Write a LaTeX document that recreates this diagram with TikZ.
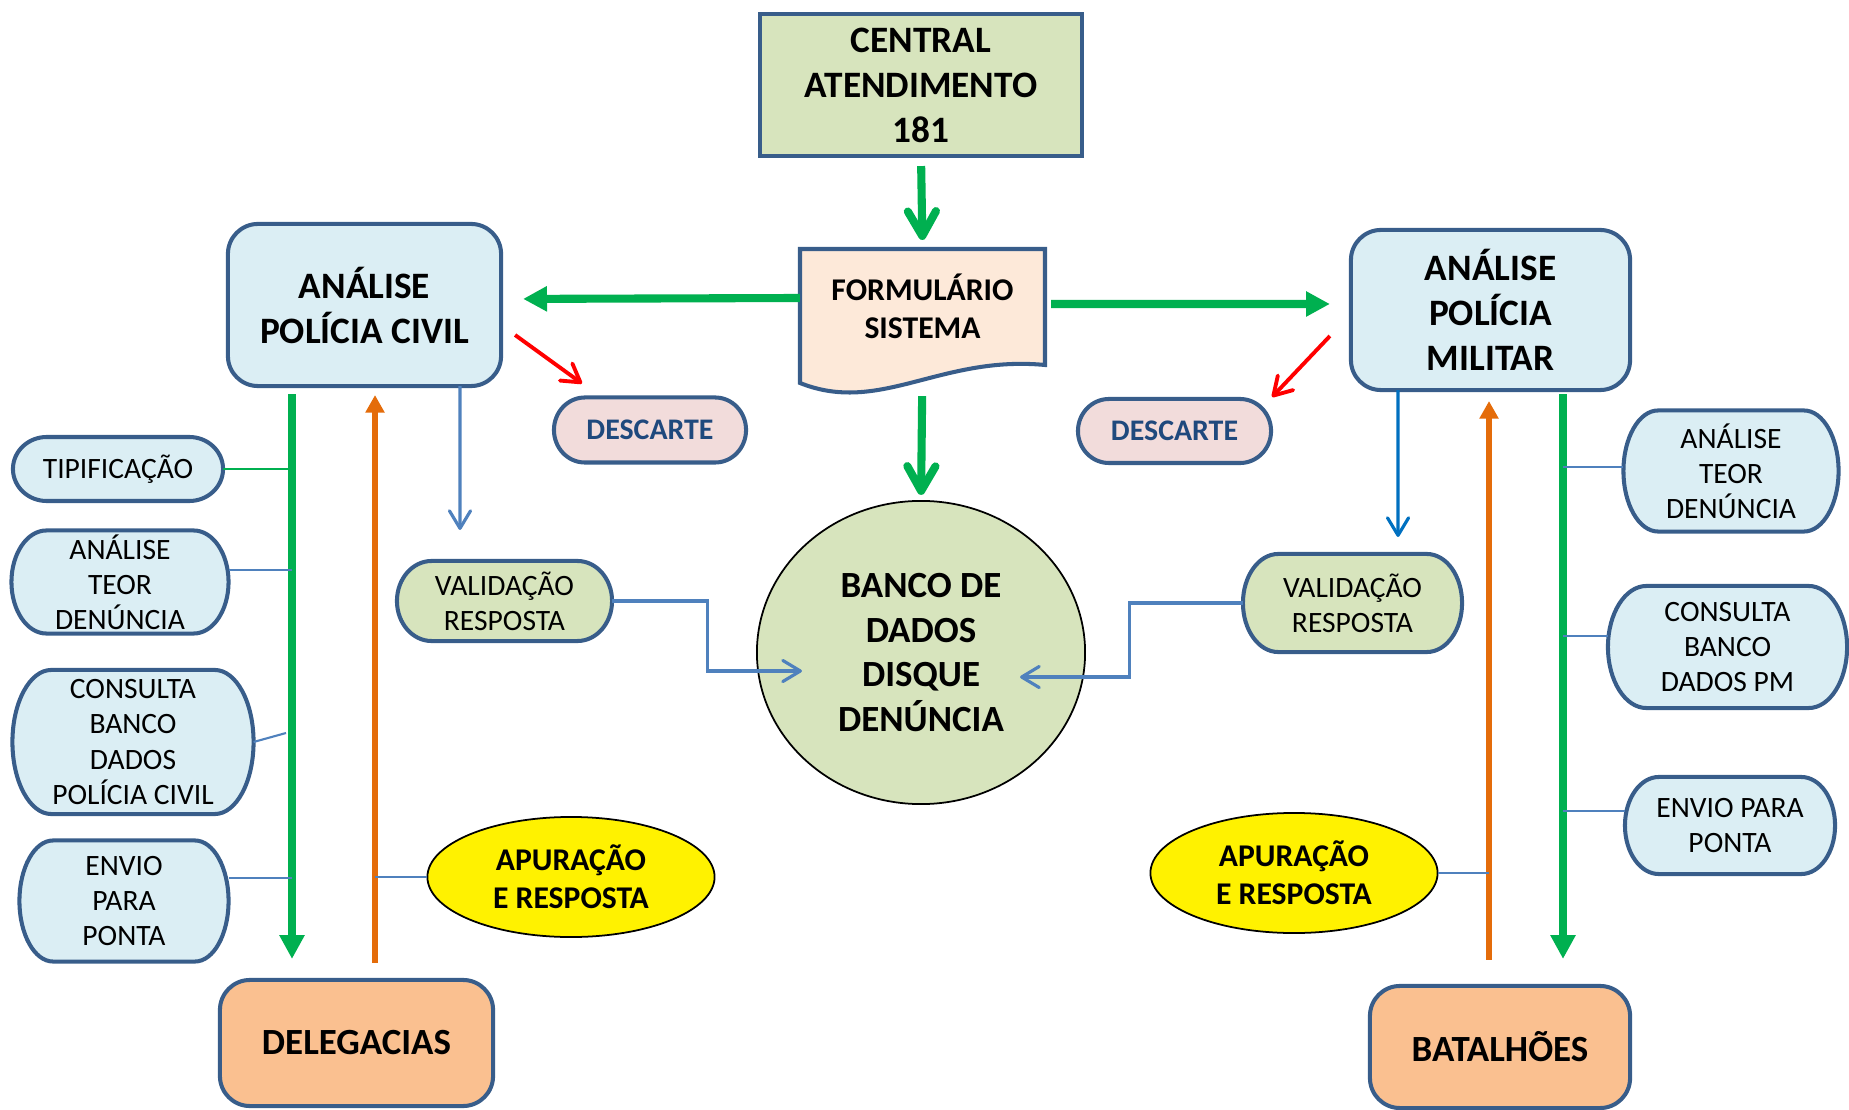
\documentclass[tikz,border=0pt]{standalone}
\usepackage{fontspec}
\setmainfont{Carlito}
\usepackage{tikz}
\usetikzlibrary{backgrounds,calc,positioning,shapes.geometric,arrows.meta}

\definecolor{boxline}{HTML}{385D8A}
\definecolor{paleblue}{HTML}{DBEEF4}
\definecolor{palegreen}{HTML}{D7E4BD}
\definecolor{palepeach}{HTML}{FDE9D9}
\definecolor{palepink}{HTML}{F2DCDB}
\definecolor{darkblue}{HTML}{1F497D}
\definecolor{apricot}{HTML}{FAC090}
\definecolor{flowgreen}{HTML}{00B050}
\definecolor{flowred}{HTML}{FF0000}
\definecolor{floworange}{HTML}{E46C0A}
\definecolor{linkblue}{HTML}{4F81BD}
\definecolor{brightblue}{HTML}{0070C0}

\begin{document}
\begin{tikzpicture}[
        x=0.01cm, y=-0.01cm,
        every node/.style={align=center, inner sep=0, outer sep=0},
        headtext/.style={font=\fontsize{10.6}{12.8}\selectfont\bfseries},
        midtext/.style={font=\fontsize{9}{10.8}\selectfont\bfseries},
        smalltext/.style={font=\fontsize{8.4}{10}\selectfont},
        central/.style={headtext, draw=boxline, line width=1.15pt, fill=palegreen, minimum width=3.21cm, minimum height=1.42cm},
        panel/.style={headtext, draw=boxline, line width=1.15pt, fill=paleblue, rounded corners=0.3cm},
        unit/.style={font=\fontsize{10.5}{12.6}\selectfont\bfseries, draw=boxline, line width=1.15pt, fill=apricot, rounded corners=0.3cm},
        discard/.style={font=\fontsize{8.5}{10}\selectfont\bfseries, text=darkblue},
        bank/.style={ellipse, draw=black, line width=0.5pt, fill=palegreen, minimum width=3.28cm, minimum height=3.03cm, font=\fontsize{10.5}{12.7}\selectfont\bfseries},
        probe/.style={midtext, ellipse, draw=black, line width=0.5pt, fill=yellow, minimum width=2.87cm, minimum height=1.2cm},
        termline/.style={draw=boxline, line width=1.15pt},
        barb/.style={draw=flowgreen, line width=2.3pt, -{Straight Barb[length=7pt, width=8pt, round]}},
        push/.style={draw=flowgreen, line width=2.3pt, -{Triangle[length=6.8pt, width=6.8pt]}},
        rise/.style={draw=floworange, line width=1.8pt, -{Triangle[length=5pt, width=5.2pt]}},
        discardarrow/.style={draw=flowred, line width=1.1pt, -{Straight Barb[length=5pt, width=6pt, round]}},
        godown/.style={line width=0.9pt, -{Straight Barb[length=5pt, width=6pt, round]}},
        link/.style={draw=linkblue, line width=0.9pt, -{Straight Barb[length=5pt, width=6pt, round]}},
        twig/.style={draw=linkblue, line width=0.6pt},
    ]
        \useasboundingbox (0,0) rectangle (1849,1110);

        \node [central] (central) at (921,85) {CENTRAL\\ATENDIMENTO\\181};

        \path [fill=palepeach, termline] (800,249) -- (1045,249) -- (1045,365) .. controls (940,355) and (880,415) .. (800,383) -- cycle;
        \node [midtext, minimum width=2.45cm, minimum height=1.14cm] (form) at (922.5,306) {FORMULÁRIO\\SISTEMA};

        \node [panel, minimum width=2.73cm, minimum height=1.62cm] (civil) at (364.5,305) {ANÁLISE\\POLÍCIA CIVIL};
        \node [panel, minimum width=2.79cm, minimum height=1.60cm] (militar) at (1490.5,310) {ANÁLISE\\POLÍCIA\\MILITAR};
        \node [discard, minimum width=1.92cm, minimum height=0.65cm] (descL) at (650,430) {DESCARTE};
        \node [discard, minimum width=1.93cm, minimum height=0.64cm] (descR) at (1174.5,431) {DESCARTE};
        \node [smalltext, minimum width=2.15cm, minimum height=0.80cm] (valL) at (504.5,601) {VALIDAÇÃO\\RESPOSTA};
        \node [smalltext, minimum width=2.19cm, minimum height=0.98cm] (valR) at (1352.5,603) {VALIDAÇÃO\\RESPOSTA};
        \node [bank] (banco) at (921,652.5) {BANCO DE\\DADOS\\DISQUE\\DENÚNCIA};

        \node [smalltext, minimum width=2.10cm, minimum height=0.64cm] (tipL) at (118,469) {TIPIFICAÇÃO};
        \node [smalltext, minimum width=2.17cm, minimum height=1.03cm] (teorL) at (120,582) {ANÁLISE\\TEOR\\DENÚNCIA};
        \node [smalltext, minimum width=2.41cm, minimum height=1.44cm] (consL) at (133,742) {CONSULTA\\BANCO\\DADOS\\POLÍCIA CIVIL};
        \node [smalltext, minimum width=2.09cm, minimum height=1.21cm] (envL) at (124,901) {ENVIO\\PARA\\PONTA};
        \node [smalltext, minimum width=2.15cm, minimum height=1.21cm] (teorR) at (1731,471) {ANÁLISE\\TEOR\\DENÚNCIA};
        \node [smalltext, minimum width=2.39cm, minimum height=1.22cm] (consR) at (1727.5,647) {CONSULTA\\BANCO\\DADOS PM};
        \node [smalltext, minimum width=2.10cm, minimum height=0.97cm] (envR) at (1730,825.5) {ENVIO PARA\\PONTA};

        \node [probe] (apuraL) at (571,877) {APURAÇÃO\\E RESPOSTA};
        \node [probe] (apuraR) at (1294,873) {APURAÇÃO\\E RESPOSTA};
        \node [unit, minimum width=2.73cm, minimum height=1.26cm] (deleg) at (356.5,1043) {DELEGACIAS};
        \node [unit, minimum width=2.60cm, minimum height=1.22cm] (batal) at (1500,1047) {BATALHÕES};

        \coordinate (trunkL) at (292,0);
        \coordinate (riseL) at (375,0);
        \coordinate (trunkR) at (1563,0);
        \coordinate (riseR) at (1489,0);

        \begin{scope}[on background layer]
            \foreach \nd/\tone in {tipL/paleblue, teorL/paleblue, consL/paleblue, envL/paleblue, teorR/paleblue, consR/paleblue, envR/paleblue, valL/palegreen, valR/palegreen, descL/palepink, descR/palepink}
                \path [termline, fill=\tone] let \p1=(\nd.north west), \p2=(\nd.south east), \n1={0.161*(\x2-\x1)}, \n2={(\y1-\y2)/2} in
                    ({\x1+\n1},\y1) -- ({\x2-\n1},\y1) arc [start angle=90, end angle=-90, x radius=\n1, y radius=\n2]
                    -- ({\x1+\n1},\y2) arc [start angle=270, end angle=90, x radius=\n1, y radius=\n2] -- cycle;
        \end{scope}

        \draw [barb, shorten <=0.10cm, shorten >=0.09cm] (central.south) -- (form.north);
        \draw [push, shorten >=0.22cm] ([yshift=0.08cm]form.west) -- ([yshift=0.06cm]civil.east);
        \draw [push, shorten <=0.06cm, shorten >=0.21cm] ([yshift=0.02cm]form.east) -- ([yshift=0.06cm]militar.west);
        \draw [barb, shorten <=0.33cm, shorten >=0.06cm] (form.south) -- (banco.north);

        \draw [discardarrow] ([xshift=0.14cm,yshift=0.51cm]civil.south east) -- ([xshift=0.28cm,yshift=0.14cm]descL.north west);
        \draw [discardarrow] ([xshift=-0.21cm,yshift=0.54cm]militar.south west) -- ([xshift=0.01cm,yshift=0.02cm]descR.north east);

        \draw [godown, draw=linkblue] ([xshift=0.955cm]civil.south) -- ([xshift=-0.445cm,yshift=0.31cm]valL.north);
        \draw [godown, draw=brightblue] ([xshift=-0.925cm]militar.south) -- ([xshift=0.455cm,yshift=0.17cm]valR.north);

        \draw [link] (valL.east) -- ++(0.95cm,0) |- ([xshift=0.45cm,yshift=-0.185cm]banco.west);
        \draw [link] (valR.west) -- ++(-1.13cm,0) |- ([xshift=-0.65cm,yshift=-0.245cm]banco.east);

        \draw [push, shorten <=0.08cm, shorten >=0.21cm] (civil.south -| trunkL) -- (deleg.north -| trunkL);
        \draw [rise, shorten <=0.17cm, shorten >=0.09cm] (deleg.north -| riseL) -- (civil.south -| riseL);
        \draw [push, shorten <=0.04cm, shorten >=0.27cm] (militar.south -| trunkR) -- (batal.north -| trunkR);
        \draw [rise, shorten <=0.26cm, shorten >=0.11cm] (batal.north -| riseR) -- (militar.south -| riseR);

        \draw [twig, draw=flowgreen] (tipL.east) -- (tipL.east -| trunkL);
        \draw [twig] ($(teorL.east)+(0,-12)$) -- ($(teorL.east -| trunkL)+(0,-12)$);
        \draw [twig] (consL.east) -- ($(consL.east -| trunkL)+(-6,-9)$);
        \draw [twig] ($(envL.east)+(0,-23)$) -- ($(envL.east -| trunkL)+(0,-23)$);
        \draw [twig] (apuraL.west) -- (apuraL.west -| riseL);
        \draw [twig] ($(teorR.west)+(0,-4)$) -- ($(teorR.west -| trunkR)+(0,-4)$);
        \draw [twig] ($(consR.west)+(0,-11)$) -- ($(consR.west -| trunkR)+(0,-11)$);
        \draw [twig] ($(envR.west)+(0,-14.5)$) -- ($(envR.west -| trunkR)+(0,-14.5)$);
        \draw [twig] (apuraR.east) -- (apuraR.east -| riseR);
    \end{tikzpicture}
\end{document}
